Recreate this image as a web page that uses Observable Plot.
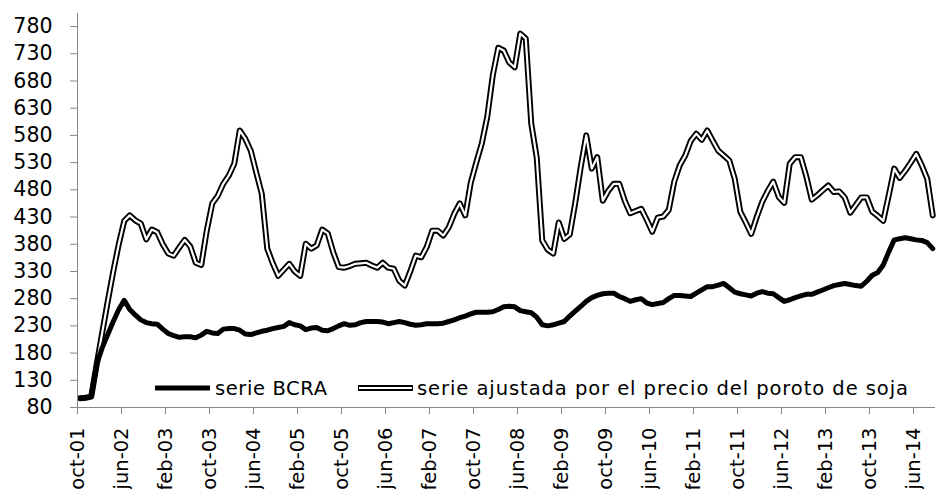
<!DOCTYPE html>
<html><head><meta charset="utf-8">
<script src="https://cdn.jsdelivr.net/npm/d3@7"></script>
<script src="https://cdn.jsdelivr.net/npm/@observablehq/plot@0.6"></script>
<style>body{margin:0;background:#fff}</style>
</head><body><div id="chart"></div>
<script>
// Monthly values, oct-01 .. sep-14
const serieBCRA = [
  97, 98, 100, 160, 190, 214, 238, 260, 277, 260,
  250, 241, 236, 234, 233, 224, 216, 212, 209, 210,
  210, 208, 213, 220, 217, 216, 224, 225, 225, 222,
  215, 214, 217, 220, 222, 225, 227, 229, 236, 232,
  230, 223, 226, 227, 222, 221, 225, 230, 234, 231,
  232, 236, 238, 238, 238, 237, 234, 236, 238, 236,
  233, 231, 232, 234, 234, 234, 235, 238, 241, 245,
  248, 252, 255, 255, 255, 256, 260, 265, 266, 265,
  258, 256, 254, 246, 232, 230, 232, 235, 238, 248,
  257, 266, 275, 282, 286, 289, 290, 290, 284, 280,
  275, 278, 280, 272, 269, 271, 273, 280, 286, 286,
  285, 284, 290, 296, 302, 302, 305, 308, 300, 292,
  289, 287, 285, 290, 293, 290, 289, 282, 275, 278,
  282, 285, 288, 288, 292, 296, 300, 304, 306, 308,
  306, 304, 303, 312, 323, 328, 342, 366, 388, 390,
  392, 390, 388, 387, 383, 372
];
const serieAjustada = [
  97, 98, 100, 160, 218, 275, 330, 380, 423, 433,
  424, 418, 389, 407, 402, 380, 363, 359, 374, 388,
  376, 346, 342, 405, 455, 469, 491, 506, 528, 589,
  574, 552, 512, 473, 372, 345, 322, 333, 344, 330,
  322, 381, 372, 378, 407, 400, 365, 338, 337, 340,
  344, 345, 346, 341, 337, 346, 337, 335, 313, 304,
  330, 359, 356, 375, 405, 405, 396, 411, 436, 455,
  433, 493, 530, 565, 614, 690, 741, 736, 714, 705,
  767, 758, 602, 539, 387, 370, 363, 420, 390, 398,
  456, 522, 580, 519, 540, 460, 478, 491, 491, 460,
  437, 441, 445, 425, 403, 429, 431, 443, 495, 525,
  543, 570, 583, 572, 589, 570, 552, 543, 534, 500,
  440, 420, 399, 430, 458, 478, 495, 467, 456, 528,
  540, 540, 505, 462, 470, 479, 488, 476, 477, 466,
  438, 452, 466, 466, 440, 432, 423, 470, 519, 502,
  515, 530, 546, 525, 500, 433
];
const tickLabels = ["oct-01","jun-02","feb-03","oct-03","jun-04","feb-05","oct-05","jun-06","feb-07","oct-07",
  "jun-08","feb-09","oct-09","jun-10","feb-11","oct-11","jun-12","feb-13","oct-13","jun-14"];
const yTicks = [80,130,180,230,280,330,380,430,480,530,580,630,680,730,780];
const legendLabels = ["serie BCRA", "serie ajustada por el precio del poroto de soja"];

const rowsB = serieBCRA.map((v, i) => ({i: i + 0.5, v}));
const rowsA = serieAjustada.map((v, i) => ({i: i + 0.5, v}));
const xTicks = tickLabels.map((_, k) => k * 8);

const chart = Plot.plot({
  width: 936, height: 489,
  marginLeft: 77, marginRight: 1, marginTop: 13, marginBottom: 82,
  style: {fontFamily: "DejaVu Sans", fontSize: "19px", background: "#fff", color: "#000", overflow: "visible"},
  x: {type: "linear", domain: [0, 156], label: null},
  y: {domain: [80, 804], label: null},
  marks: [
    Plot.line(rowsA, {x: "i", y: "v", stroke: "#000", strokeWidth: 6}),
    Plot.line(rowsA, {x: "i", y: "v", stroke: "#fff", strokeWidth: 2.2}),
    Plot.line(rowsB, {x: "i", y: "v", stroke: "#000", strokeWidth: 5}),
    Plot.ruleX([0], {stroke: "#888"}),
    Plot.ruleY([80], {stroke: "#888"}),
    Plot.axisY(yTicks, {tickSize: 7, tickPadding: 18, stroke: "#888", fill: "#000", label: null, fontSize: 20.5}),
    Plot.axisX(xTicks, {tickSize: 7, tickPadding: 13, tickRotate: -90, tickFormat: d => tickLabels[d / 8],
      stroke: "#888", fill: "#000", label: null, fontSize: 19.5})
  ]
});
document.getElementById("chart").appendChild(chart);

// in-plot legend
const lg = d3.select(chart).append("g")
  .attr("font-family", "DejaVu Sans").attr("font-size", "19.5px")
  .attr("fill", "#000").attr("text-anchor", "start");
lg.append("line").attr("x1", 155).attr("x2", 210).attr("y1", 388).attr("y2", 388)
  .attr("stroke", "#000").attr("stroke-width", 5);
lg.append("text").attr("x", 215).attr("y", 395).attr("text-anchor", "start")
  .attr("textLength", 112).attr("lengthAdjust", "spacing").text(legendLabels[0]);
lg.append("line").attr("x1", 358).attr("x2", 413).attr("y1", 388).attr("y2", 388)
  .attr("stroke", "#000").attr("stroke-width", 6);
lg.append("line").attr("x1", 359).attr("x2", 412).attr("y1", 388).attr("y2", 388)
  .attr("stroke", "#fff").attr("stroke-width", 2.2);
lg.append("text").attr("x", 417).attr("y", 395).attr("text-anchor", "start")
  .attr("textLength", 491).attr("lengthAdjust", "spacing").text(legendLabels[1]);
</script>
</body></html>
